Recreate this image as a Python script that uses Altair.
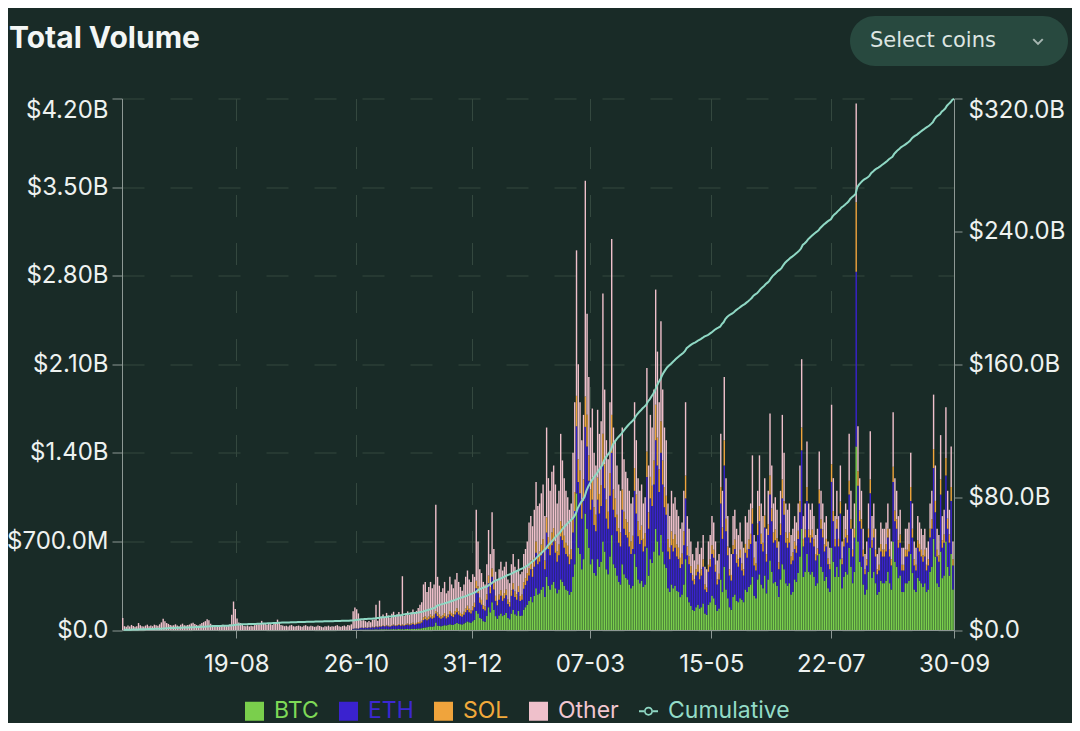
import json
import altair as alt
import pandas as pd

# ---------------- text / axes ----------------
TITLE = "Total Volume"
BUTTON = "Select coins"
START_DATE = "2023-06-15"
END_DATE = "2024-09-30"
X_TICKS = ["2023-08-19", "2023-10-26", "2023-12-31", "2024-03-07",
           "2024-05-15", "2024-07-22", "2024-09-30"]
X_FORMAT = "%d-%m"
LEFT_TICKS = [0, 700, 1400, 2100, 2800, 3500, 4200]          # $M
RIGHT_TICKS = [0, 80000, 160000, 240000, 320000]             # $M
COINS = ["BTC", "ETH", "SOL", "Other"]
SERIES = COINS + ["Cumulative"]
COLORS = ["#7acf4c", "#3a22cf", "#f0a43c", "#efc0cb", "#8fd8c4"]
LABEL_COLORS = ["#7ed957", "#3c28d2", "#f2a93b", "#f1c6d0", "#93dcc8"]

BG = "#192b27"
BUTTON_BG = "#28493f"
TEXT = "#eef2f0"
AXIS = "#8d9894"
GRID = "#34483f"

# ---------------- daily volume, $M (2023-06-15 .. 2024-09-29) ----------------
btc = [
    # Jun 2023 (15-30)
    0, 0, 0, 0, 0, 0, 0, 0, 0, 0, 0, 0, 0, 0, 0, 0,
    # Jul
    0, 0, 0, 0, 0, 0, 0, 0, 0, 0, 0, 0, 0, 0, 0, 0, 0, 0, 0, 0, 0, 0, 0, 0, 0, 0, 0, 0, 0, 0, 0,
    # Aug
    0, 0, 0, 0, 0, 0, 0, 0, 0, 0, 0, 0, 0, 0, 0, 0, 0, 0, 0, 0, 0, 0, 0, 0, 0, 0, 0, 0, 0, 0, 0,
    # Sep
    0, 0, 0, 0, 0, 0, 0, 0, 0, 0, 0, 0, 0, 0, 0, 0, 0, 0, 0, 0, 0, 0, 0, 0, 0, 0, 0, 0, 0, 0,
    # Oct
    0, 0, 0, 0, 0, 0, 0, 0, 0, 0, 0, 0, 0, 0, 0, 0, 0, 0, 0, 0, 0, 0, 0, 2, 3, 3, 2, 3, 4, 3, 4,
    # Nov
    3, 4, 3, 4, 4, 5, 4, 5, 5, 6, 5, 6, 5, 5, 6, 7, 6, 6, 7, 6, 7, 6, 7, 8, 7, 8, 9, 8, 10, 12,
    # Dec
    12, 14, 18, 20, 22, 25, 28, 26, 30, 60, 35, 32, 30, 34, 38, 36, 40, 45, 42, 40, 48, 55, 50, 46, 44, 52, 60, 68, 62, 58, 70,
    # Jan 2024
    80, 150, 130, 95, 90, 70, 65, 110, 180, 140, 220, 160, 110, 90, 115, 130, 110, 120, 135, 95, 85, 130, 160, 125, 115, 150, 110, 115, 160, 180, 200,
    # Feb
    230, 260, 220, 270, 330, 280, 290, 320, 340, 260, 420, 350, 320, 360, 380, 330, 290, 320, 400, 380, 350, 320, 310, 280, 300, 420, 520, 1080, 650,
    # Mar
    600, 480, 560, 920, 800, 650, 520, 560, 450, 430, 560, 500, 540, 700, 620, 480, 440, 580, 750, 520, 490, 430, 380, 360, 520, 440, 410, 400, 360, 330, 350,
    # Apr
    600, 500, 400, 370, 390, 340, 360, 650, 430, 560, 530, 620, 800, 700, 590, 750, 620, 520, 490, 330, 300, 360, 330, 350, 310, 300, 260, 280, 360, 560,
    # May
    260, 220, 190, 160, 150, 180, 200, 170, 180, 210, 130, 120, 200, 220, 270, 250, 200, 150, 170, 400, 300, 500, 320, 250, 180, 160, 260, 280, 230, 220, 250,
    # Jun
    240, 220, 320, 300, 340, 360, 420, 270, 250, 400, 440, 360, 330, 430, 290, 400, 550, 460, 370, 380, 350, 260, 400, 520, 480, 370, 350, 370, 280, 300,
    # Jul
    400, 380, 450, 580, 800, 420, 460, 600, 460, 440, 460, 420, 350, 370, 600, 500, 460, 390, 420, 330, 300, 650, 540, 420, 500, 420, 560, 330, 420, 460, 440,
    # Aug
    650, 500, 370, 460, 1450, 700, 540, 500, 360, 280, 320, 460, 650, 410, 460, 370, 280, 300, 390, 370, 370, 390, 460, 370, 320, 700, 540, 500, 410, 430, 300,
    # Sep (1-29)
    300, 370, 370, 390, 600, 450, 320, 300, 410, 390, 370, 340, 370, 300, 320, 460, 500, 720, 580, 370, 340, 620, 410, 430, 700, 500, 430, 600, 320,
]

eth = [
    0, 0, 0, 0, 0, 0, 0, 0, 0, 0, 0, 0, 0, 0, 0, 0,
    0, 0, 0, 0, 0, 0, 0, 0, 0, 0, 0, 0, 0, 0, 0, 0, 0, 0, 0, 0, 0, 0, 0, 0, 0, 0, 0, 0, 0, 0, 0,
    0, 0, 0, 0, 0, 0, 0, 0, 0, 0, 0, 0, 0, 0, 0, 0, 0, 0, 0, 0, 0, 0, 0, 0, 0, 0, 0, 0, 0, 0, 0,
    0, 0, 0, 0, 0, 0, 0, 0, 0, 0, 0, 0, 0, 0, 0, 0, 0, 0, 0, 0, 0, 0, 0, 0, 0, 0, 0, 0, 0, 0,
    0, 0, 0, 0, 0, 0, 0, 0, 0, 0, 0, 0, 0, 0, 0, 0, 0, 0, 0, 0, 0, 0, 0, 6, 8, 9, 8, 12, 14, 12, 15,
    12, 15, 14, 18, 16, 20, 18, 22, 20, 25, 22, 28, 24, 20, 26, 30, 25, 28, 32, 26, 30, 28, 32, 35, 30, 34, 38, 32, 36, 40,
    40, 45, 60, 65, 55, 60, 70, 62, 66, 70, 75, 65, 58, 62, 70, 55, 60, 78, 68, 62, 75, 85, 72, 65, 60, 68, 80, 90, 78, 72, 85,
    100, 180, 160, 120, 110, 95, 90, 130, 190, 150, 200, 160, 120, 105, 125, 140, 120, 130, 140, 110, 100, 140, 160, 135, 125, 150, 120, 125, 165, 175, 190,
    200, 220, 200, 230, 280, 240, 250, 270, 290, 220, 350, 290, 270, 310, 320, 280, 250, 270, 340, 330, 300, 280, 270, 240, 260, 350, 420, 530, 520,
    480, 400, 460, 685, 650, 530, 430, 470, 380, 350, 470, 420, 440, 600, 500, 400, 360, 480, 650, 430, 400, 350, 310, 300, 430, 360, 340, 330, 300, 270, 290,
    500, 420, 340, 310, 320, 280, 300, 560, 370, 480, 450, 530, 700, 600, 500, 650, 530, 450, 420, 290, 260, 310, 290, 300, 270, 260, 230, 240, 310, 480,
    330, 300, 260, 230, 210, 250, 260, 230, 250, 290, 190, 180, 260, 280, 330, 320, 260, 210, 230, 600, 420, 800, 460, 340, 250, 230, 340, 360, 300, 280, 320,
    230, 210, 290, 270, 300, 320, 420, 240, 220, 350, 420, 320, 290, 380, 250, 350, 520, 400, 320, 330, 300, 220, 350, 520, 430, 320, 300, 320, 240, 250,
    240, 230, 270, 350, 620, 240, 270, 420, 270, 250, 270, 240, 200, 220, 400, 300, 270, 230, 240, 190, 180, 520, 320, 240, 300, 240, 360, 190, 240, 270, 250,
    420, 300, 210, 270, 1380, 440, 320, 300, 220, 160, 190, 270, 430, 240, 270, 210, 160, 170, 230, 210, 210, 230, 270, 210, 190, 470, 320, 300, 240, 260, 170,
    170, 210, 210, 230, 420, 280, 190, 170, 240, 230, 210, 200, 210, 170, 190, 270, 300, 560, 350, 210, 200, 450, 240, 260, 520, 300, 260, 420, 190,
]

sol = [
    0, 0, 0, 0, 0, 0, 0, 0, 0, 0, 0, 0, 0, 0, 0, 0,
    0, 0, 0, 0, 0, 0, 0, 0, 0, 0, 0, 0, 0, 0, 0, 0, 0, 0, 0, 0, 0, 0, 0, 0, 0, 0, 0, 0, 0, 0, 0,
    0, 0, 0, 0, 0, 0, 0, 0, 0, 0, 0, 0, 0, 0, 0, 0, 0, 0, 0, 0, 0, 0, 0, 0, 0, 0, 0, 0, 0, 0, 0,
    0, 0, 0, 0, 0, 0, 0, 0, 0, 0, 0, 0, 0, 0, 0, 0, 0, 0, 0, 0, 0, 0, 0, 0, 0, 0, 0, 0, 0, 0,
    0, 0, 0, 0, 0, 0, 0, 0, 0, 0, 0, 0, 0, 0, 0, 0, 0, 0, 0, 0, 0, 0, 0, 1, 1, 2, 1, 2, 2, 2, 3,
    2, 3, 2, 4, 3, 5, 3, 5, 4, 6, 5, 6, 5, 4, 6, 7, 5, 6, 8, 6, 8, 6, 8, 9, 7, 9, 10, 8, 10, 12,
    14, 15, 22, 24, 20, 22, 25, 22, 24, 20, 28, 24, 20, 22, 26, 20, 22, 28, 25, 22, 28, 32, 26, 24, 22, 25, 30, 34, 28, 26, 32,
    35, 60, 55, 40, 38, 32, 30, 42, 60, 50, 65, 50, 40, 35, 40, 45, 40, 42, 45, 36, 34, 45, 50, 44, 40, 48, 38, 40, 52, 55, 60,
    60, 70, 60, 70, 90, 75, 80, 85, 90, 70, 120, 95, 85, 100, 105, 90, 80, 85, 120, 110, 95, 90, 85, 75, 80, 110, 150, 240, 180,
    180, 150, 170, 240, 250, 200, 160, 175, 140, 130, 175, 155, 165, 250, 190, 150, 135, 180, 300, 160, 150, 130, 115, 110, 160, 135, 125, 120, 110, 100, 105,
    180, 150, 120, 110, 115, 100, 105, 200, 130, 170, 160, 190, 280, 220, 180, 250, 190, 160, 150, 100, 90, 110, 100, 105, 95, 90, 80, 85, 110, 180,
    70, 60, 55, 45, 40, 50, 55, 45, 50, 60, 40, 35, 55, 60, 70, 65, 55, 40, 45, 130, 90, 200, 100, 70, 50, 45, 70, 75, 65, 60, 65,
    55, 50, 70, 65, 75, 80, 120, 60, 55, 90, 120, 80, 70, 95, 60, 85, 150, 100, 80, 85, 75, 55, 90, 150, 110, 80, 75, 80, 60, 65,
    60, 55, 65, 90, 180, 60, 65, 110, 65, 60, 65, 60, 50, 55, 110, 75, 65, 55, 60, 45, 40, 140, 80, 60, 75, 60, 95, 45, 60, 65, 60,
    110, 75, 55, 70, 550, 115, 85, 75, 55, 40, 50, 70, 110, 60, 70, 55, 40, 45, 60, 55, 55, 60, 70, 55, 50, 120, 85, 75, 60, 65, 45,
    45, 55, 55, 60, 110, 70, 50, 45, 60, 60, 55, 50, 55, 45, 50, 70, 75, 150, 90, 55, 50, 120, 60, 65, 140, 80, 65, 110, 50,
]

other = [
    95, 30, 25, 35, 28, 40, 32, 26, 30, 55, 38, 30, 28, 35, 42, 30,
    35, 30, 42, 38, 33, 45, 60, 88, 70, 55, 48, 40, 35, 38, 45, 36, 30, 42, 50, 38, 35, 40, 44, 52, 58, 48, 40, 36, 45, 55, 62,
    70, 85, 78, 50, 40, 35, 32, 38, 30, 36, 42, 34, 30, 38, 45, 120, 225, 165, 90, 60, 55, 40, 32, 30, 35, 28, 33, 30, 38, 42, 45,
    45, 72, 55, 48, 42, 50, 46, 40, 52, 60, 82, 58, 40, 35, 30, 33, 28, 36, 40, 30, 27, 32, 35, 30, 26, 34, 38, 30, 28, 33,
    30, 25, 28, 35, 32, 26, 22, 30, 28, 34, 25, 30, 27, 33, 38, 29, 26, 31, 35, 28, 40, 36, 45, 140, 165, 150, 120, 70, 55, 60, 48,
    45, 50, 42, 55, 60, 170, 48, 200, 75, 85, 70, 95, 80, 65, 90, 100, 72, 85, 95, 80, 380, 70, 85, 95, 75, 90, 105, 80, 95, 110,
    134, 146, 260, 271, 203, 233, 257, 220, 240, 840, 282, 229, 192, 212, 246, 179, 188, 269, 225, 206, 249, 278, 232, 205, 184, 215, 250, 278, 232, 224, 253,
    205, 560, 355, 225, 212, 183, 175, 238, 360, 260, 445, 270, 190, 170, 200, 225, 200, 208, 220, 159, 151, 205, 230, 196, 190, 212, 172, 180, 223, 230, 250,
    360, 350, 340, 380, 470, 385, 380, 405, 430, 350, 710, 465, 425, 480, 495, 450, 380, 425, 690, 520, 455, 410, 385, 355, 360, 520, 710, 1150, 750,
    540, 470, 510, 1705, 800, 620, 490, 545, 430, 390, 535, 475, 505, 1110, 590, 470, 415, 560, 1390, 490, 460, 390, 345, 330, 490, 415, 375, 350, 330, 300, 305,
    520, 430, 340, 310, 325, 280, 285, 660, 370, 490, 460, 560, 910, 680, 530, 790, 560, 470, 440, 280, 250, 320, 280, 295, 275, 250, 230, 245, 320, 580,
    240, 220, 195, 165, 150, 170, 185, 155, 170, 190, 140, 145, 185, 190, 230, 215, 185, 150, 155, 420, 290, 500, 320, 240, 170, 165, 230, 235, 205, 190, 215,
    175, 170, 220, 215, 235, 240, 420, 180, 175, 260, 400, 240, 210, 295, 200, 265, 490, 340, 230, 255, 225, 165, 260, 510, 380, 230, 225, 230, 170, 185,
    200, 185, 215, 280, 540, 180, 205, 360, 205, 200, 205, 180, 150, 155, 300, 225, 205, 175, 180, 135, 130, 470, 260, 180, 225, 180, 285, 135, 180, 205, 200,
    370, 225, 165, 200, 780, 355, 255, 225, 165, 120, 140, 200, 380, 190, 200, 165, 120, 135, 170, 165, 165, 170, 200, 165, 140, 430, 255, 225, 190, 195, 135,
    135, 165, 165, 170, 270, 200, 140, 135, 190, 170, 165, 160, 165, 135, 140, 200, 225, 430, 280, 165, 160, 350, 190, 195, 400, 220, 195, 320, 140,
]

n = len(btc)
assert len(eth) == n and len(sol) == n and len(other) == n, (len(btc), len(eth), len(sol), len(other))

dates = pd.date_range(START_DATE, periods=n, freq="D")
start_ms = dates.asi8 // 1_000_000
df = pd.DataFrame({
    "start": start_ms,
    "end": start_ms + 86_400_000,
    "BTC": btc, "ETH": eth, "SOL": sol, "Other": other,
})


def utc_dt(s):
    t = pd.Timestamp(s)
    return alt.DateTime(year=t.year, month=t.month, date=t.day, utc=True)


xscale = alt.Scale(type="utc", domain=[utc_dt(START_DATE), utc_dt(END_DATE)])
xaxis = alt.Axis(
    values=[utc_dt(t) for t in X_TICKS], labelExpr=f"utcFormat(datum.value, '{X_FORMAT}')", title=None,
    grid=True, gridColor=GRID, gridDash=[22, 26], gridWidth=1,
    domainColor=AXIS, tickColor=AXIS, tickSize=8,
    labelColor=TEXT, labelFont="Inter", labelFontSize=24, labelPadding=14,
    labelFlush=False, labelOverlap=False,
)
yaxis = alt.Axis(
    values=LEFT_TICKS, title=None, grid=True, gridColor=GRID, gridDash=[22, 26], gridWidth=1,
    domainColor=AXIS, tickColor=AXIS, tickSize=10, labelPadding=4,
    labelColor=TEXT, labelFont="Inter", labelFontSize=24,
    labelExpr="datum.value == 0 ? '$0.0' : datum.value >= 1000 ? '$' + format(datum.value / 1000, '.2f') + 'B' : '$' + format(datum.value, '.1f') + 'M'",
    labelBaseline={"condition": {"test": f"datum.value >= {LEFT_TICKS[-1]}", "value": "top"}, "value": "middle"},
)
raxis = alt.Axis(
    values=RIGHT_TICKS, title=None, orient="right", grid=False,
    domainColor=AXIS, tickColor=AXIS, tickSize=8, labelPadding=6,
    labelColor=TEXT, labelFont="Inter", labelFontSize=24,
    labelExpr="datum.value == 0 ? '$0.0' : '$' + format(datum.value / 1000, '.1f') + 'B'",
    labelBaseline={"condition": {"test": f"datum.value >= {RIGHT_TICKS[-1]}", "value": "top"}, "value": "middle"},
)

CUM_PATH = ("M-1,-0.1L-0.47,-0.1L-0.47,0.1L-1,0.1Z M0.47,-0.1L1,-0.1L1,0.1L0.47,0.1Z "
            "M-0.47,0A0.47,0.47,0,1,0,0.47,0A0.47,0.47,0,1,0,-0.47,0Z "
            "M-0.3,0A0.3,0.3,0,1,1,0.3,0A0.3,0.3,0,1,1,-0.3,0Z")
sym_expr = f"datum.value == 'Cumulative' ? '{CUM_PATH}' : 'square'"
lab_expr = " : ".join(f"datum.value == '{s}' ? '{c}'" for s, c in zip(SERIES[:-1], LABEL_COLORS[:-1])) \
    + f" : '{LABEL_COLORS[-1]}'"

legend = alt.Legend(
    title=None, orient="none", direction="horizontal", legendX=121, legendY=601,
    symbolType=alt.ExprRef(expr=sym_expr), symbolSize=361, symbolStrokeWidth=0, symbolOpacity=1,
    labelColor=alt.ExprRef(expr=lab_expr), labelFont="Inter", labelFontSize=23,
    labelOffset=8, columnPadding=18, padding=0, labelLimit=300,
)

bars = alt.Chart(df).transform_fold(COINS, as_=["coin", "vol"]).transform_calculate(
    rank=f"indexof({json.dumps(COINS)}, datum.coin)"
).transform_stack(
    stack="vol", groupby=["start"], sort=[alt.SortField("rank", order="ascending")], as_=["v0", "v1"]
).mark_bar(x2Offset=-0.35).encode(
    x=alt.X("start:T", scale=xscale, axis=xaxis),
    x2="end:T",
    y=alt.Y("v0:Q", scale=alt.Scale(domain=[LEFT_TICKS[0], LEFT_TICKS[-1]], nice=False), axis=yaxis),
    y2="v1:Q",
    color=alt.Color("coin:N", scale=alt.Scale(domain=SERIES, range=COLORS), legend=legend),
)

line = alt.Chart(df).transform_calculate(
    total="datum.BTC + datum.ETH + datum.SOL + datum.Other"
).transform_window(
    cum="sum(total)", sort=[alt.SortField("start")], frame=[None, 0]
).mark_line(color=COLORS[4], strokeWidth=2).encode(
    x=alt.X("end:T", scale=xscale, axis=xaxis),
    y=alt.Y("cum:Q", scale=alt.Scale(domain=[RIGHT_TICKS[0], RIGHT_TICKS[-1]], nice=False), axis=raxis),
)

deco = pd.DataFrame({"title": [TITLE], "button": [BUTTON]})
title_mark = alt.Chart(deco).mark_text(
    align="left", baseline="middle", font="Inter", fontSize=30, fontWeight="bold", color="#f3f6f5"
).encode(x=alt.value(-113), y=alt.value(-60), text="title:N")
button_bg = alt.Chart(deco).mark_rect(cornerRadius=25, color=BUTTON_BG).encode(
    x=alt.value(728), x2=alt.value(946), y=alt.value(-82.5), y2=alt.value(-32.5)
)
button_text = alt.Chart(deco).mark_text(
    align="left", baseline="middle", font="DejaVu Sans", fontSize=21, color="#dde5e2"
).encode(x=alt.value(748), y=alt.value(-58), text="button:N")
chevron = alt.Chart(deco).mark_point(
    shape="M-1,-0.5L0,0.5L1,-0.5", filled=False, size=90, strokeWidth=2, color="#dde5e2"
).encode(x=alt.value(916), y=alt.value(-57))

chart = alt.layer(bars, line, title_mark, button_bg, button_text, chevron).resolve_scale(
    y="independent"
).properties(
    width=832, height=531.5,
    autosize=alt.AutoSizeParams(type="none"),
    padding={"left": 114, "top": 90.5, "right": 118, "bottom": 93},
    background=BG,
).configure_view(stroke=None)

chart.save("out.html", embed_options={"renderer": "svg", "actions": False})
